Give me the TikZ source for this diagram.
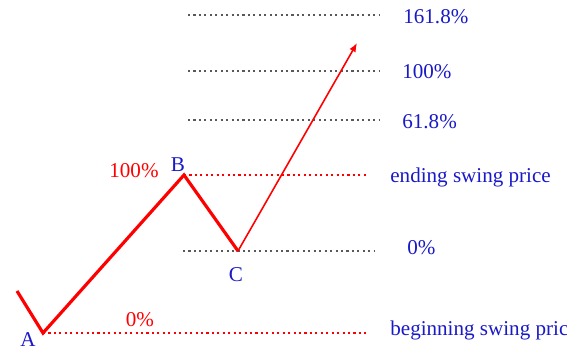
\documentclass[tikz,border=0pt]{standalone}
\usepackage{fontspec}
\setmainfont{Liberation Serif}
\usetikzlibrary{arrows.meta}

\begin{document}
\begin{tikzpicture}[x=0.02cm, y=-0.02cm, font=\fontsize{12}{14}\selectfont]
        \tikzset{
          swing/.style ={draw=red, line width=1.8pt, line join=miter},
          proj/.style  ={draw=red, line width=0.9pt, -{Latex[length=5pt,width=4pt]}},
          lvl/.style   ={line width=1.3pt, dash pattern=on 1.2pt off 1.9pt},
          lvlr/.style  ={lvl, draw=red},
          lvlg/.style  ={lvl, draw=black!65},
          blu/.style   ={text=txtblue, inner sep=0pt, anchor=west},
          rd/.style    ={text=red, inner sep=0pt}
        }
        \definecolor{txtblue}{RGB}{25,25,200}
        \useasboundingbox (0,0) rectangle (567,347);
        %% --- Swing points ---
        \coordinate (st) at (17,291);
        \coordinate (A)  at (43,333);
        \coordinate (B)  at (184,175);
        \coordinate (C)  at (238,251);
        \coordinate (tip) at (357,43);
        %% --- Level lines ---
        \coordinate (g1s) at (188,15);  \coordinate (g1e) at (379,15);
        \coordinate (g2s) at (188,71);  \coordinate (g2e) at (379,71);
        \coordinate (g3s) at (188,120); \coordinate (g3e) at (379,120);
        \coordinate (g4s) at (183,251); \coordinate (g4e) at (374,251);
        \coordinate (rBe) at (368,175);
        \coordinate (rAe) at (368,333);
        \draw[lvlg] (g1s) -- (g1e);
        \draw[lvlg] (g2s) -- (g2e);
        \draw[lvlg] (g3s) -- (g3e);
        \draw[lvlg] (g4s) -- (g4e);
        \draw[lvlr] (B) -- (rBe);
        \draw[lvlr] (A) -- (rAe);
        %% --- Price path ---
        \draw[swing] (st) -- (A) -- (B) -- (C);
        \draw[proj] (C) -- (tip);
        %% --- Labels ---
        \node[blu] (l1) at (403,17)  {161.8\%};
        \node[blu] (l2) at (402,72)  {100\%};
        \node[blu] (l3) at (402,122) {61.8\%};
        \node[blu] (l4) at (390,177) {ending swing price};
        \node[blu] (l5) at (407,248) {0\%};
        \node[blu] (l6) at (390,330) {beginning swing price};
        \node[rd]  (pB) at (134,171) {100\%};
        \node[rd]  (pA) at (140,320) {0\%};
        \node[text=txtblue, inner sep=0pt] (nB) at (178,165) {B};
        \node[text=txtblue, inner sep=0pt] (nC) at (236,275) {C};
        \node[text=txtblue, inner sep=0pt] (nA) at (28,340)  {A};
\end{tikzpicture}
\end{document}
